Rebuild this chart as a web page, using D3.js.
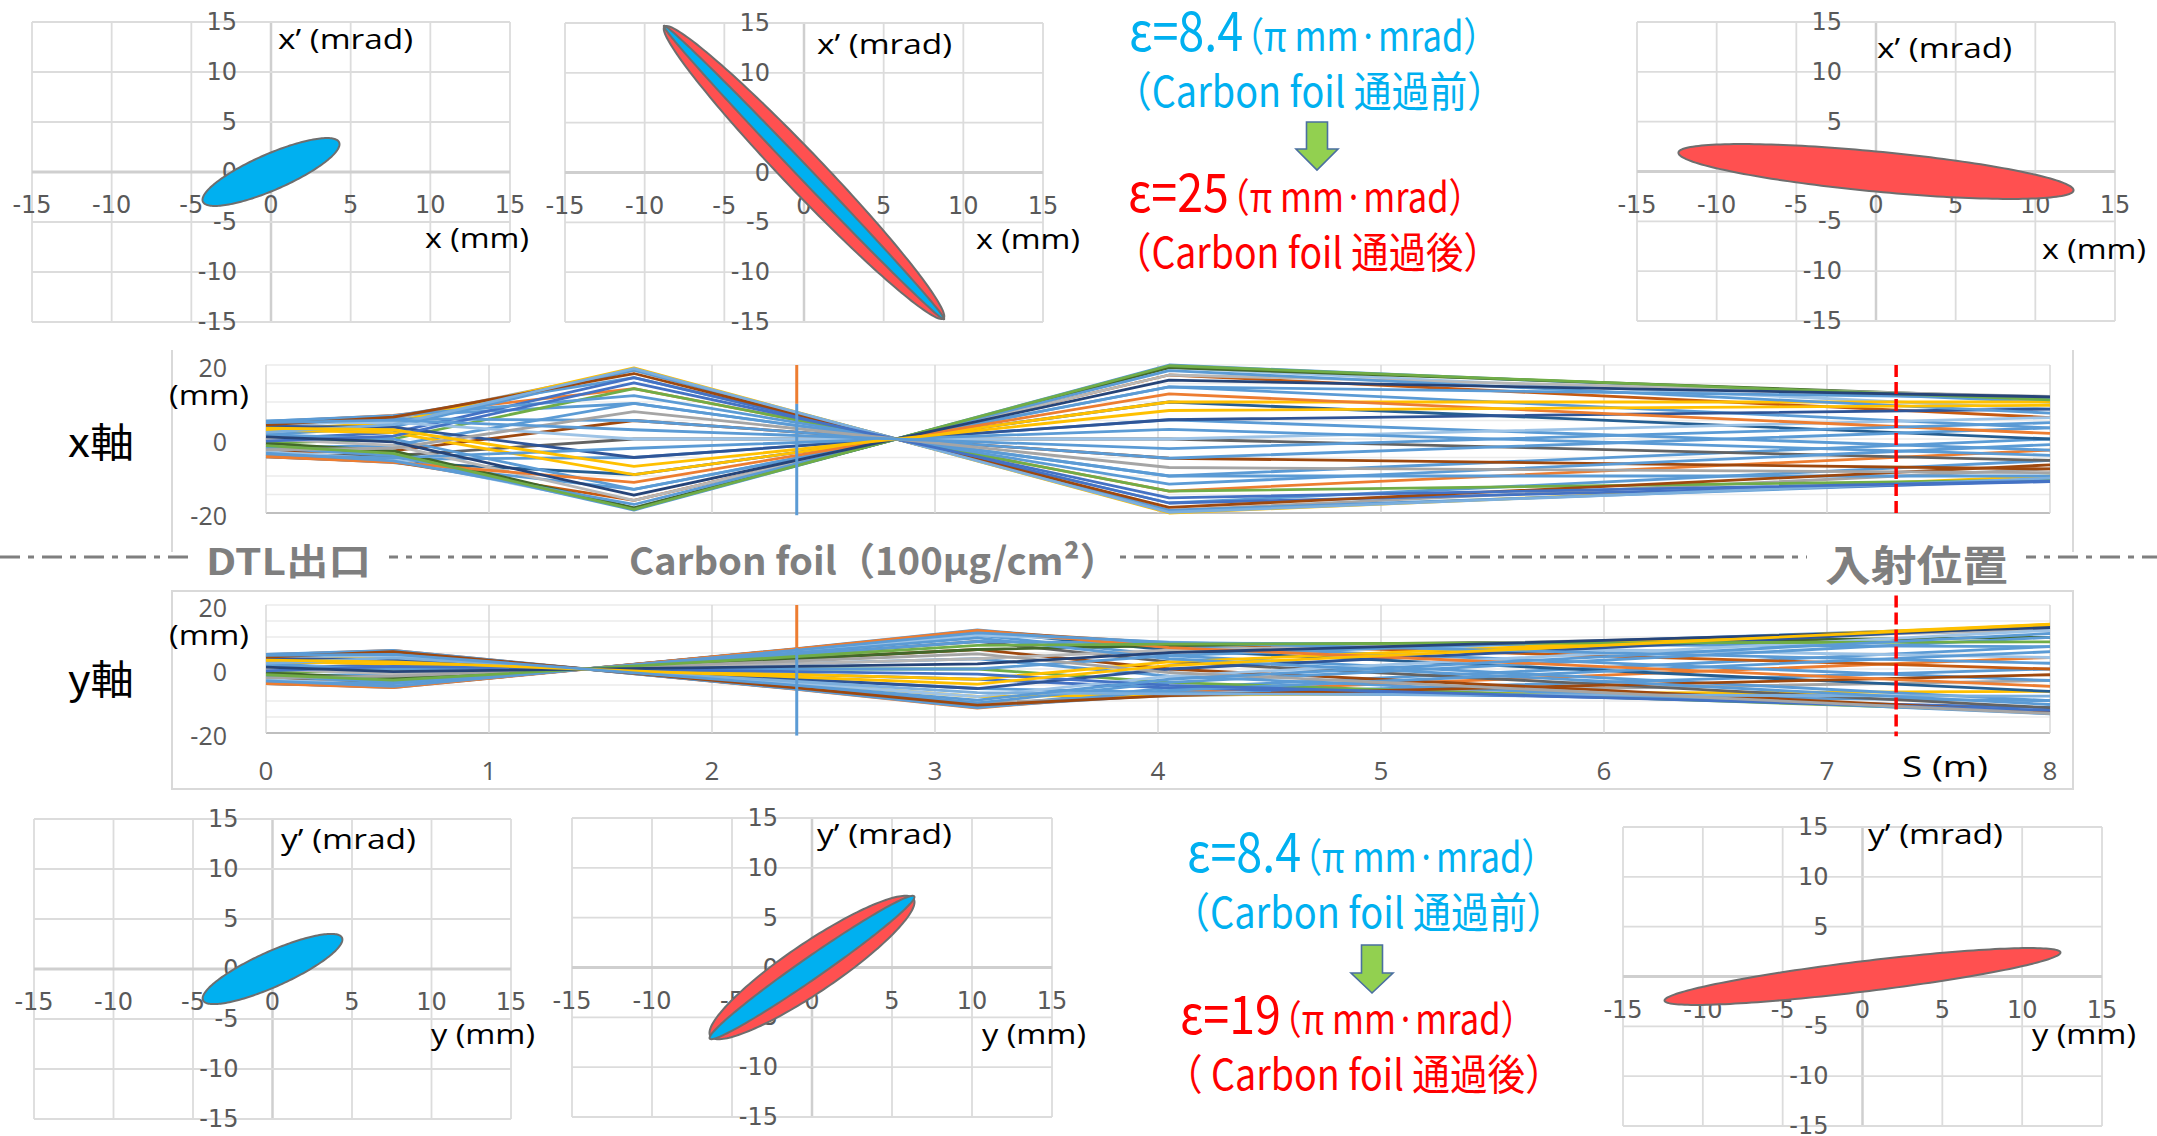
<!DOCTYPE html>
<html>
<head>
<meta charset="utf-8">
<script src="https://cdnjs.cloudflare.com/ajax/libs/d3/7.8.5/d3.min.js"></script>
<style>
  body { margin: 0; background: #fff; }
  svg { display: block; }
</style>
</head>
<body>
<script>
// ---------------- data ----------------
var phaseTicks = [-15, -10, -5, 0, 5, 10, 15];
var sTicks = [0, 1, 2, 3, 4, 5, 6, 7, 8];
var mmLabels = [-20, 0, 20];
var mmGrid = [-20, -15, -10, -5, 0, 5, 10, 15, 20];

// horizontal trajectories, value at each node (mm)
var xNodes = [0, 0.57, 1.65, 4.05, 8.0];
var xRays = [
  [4.8, 6.2, 9.6, -10.0, 0.0],
  [4.6, 6.4, 13.6, -14.1, -3.0],
  [4.2, 6.2, 16.6, -17.3, -5.8],
  [3.4, 5.5, 18.6, -19.3, -8.1],
  [2.4, 4.5, 19.2, -20.0, -10.0],
  [1.2, 3.2, 18.6, -19.3, -11.1],
  [0.0, 1.7, 16.6, -17.3, -11.5],
  [-1.2, 0.0, 13.6, -14.1, -11.1],
  [-2.4, -1.7, 9.6, -10.0, -10.0],
  [-3.4, -3.2, 5.0, -5.2, -8.1],
  [-4.2, -4.5, 0.0, 0.0, -5.8],
  [-4.6, -5.5, -5.0, 5.2, -3.0],
  [-4.8, -6.2, -9.6, 10.0, 0.0],
  [-4.6, -6.4, -13.6, 14.1, 3.0],
  [-4.2, -6.2, -16.6, 17.3, 5.8],
  [-3.4, -5.5, -18.6, 19.3, 8.1],
  [-2.4, -4.5, -19.2, 20.0, 10.0],
  [-1.2, -3.2, -18.6, 19.3, 11.1],
  [0.0, -1.7, -16.6, 17.3, 11.5],
  [1.2, 0.0, -13.6, 14.1, 11.1],
  [2.4, 1.7, -9.6, 10.0, 10.0],
  [3.4, 3.2, -5.0, 5.2, 8.1],
  [4.2, 4.5, 0.0, 0.0, 5.8],
  [4.6, 5.5, 5.0, -5.2, 3.0],
  [4.8, 6.3, 11.7, -12.2, -1.5],
  [3.8, 5.9, 17.7, -18.5, -7.0],
  [1.8, 3.9, 19.0, -19.8, -10.6],
  [-0.6, 0.8, 15.2, -15.9, -11.4],
  [-2.9, -2.5, 7.4, -7.7, -9.1],
  [-4.4, -5.1, -2.5, 2.6, -4.4],
  [-4.8, -6.3, -11.7, 12.2, 1.5],
  [-3.8, -5.9, -17.7, 18.5, 7.0],
  [-1.8, -3.9, -19.0, 19.8, 10.6],
  [0.6, -0.8, -15.2, 15.9, 11.4],
  [2.9, 2.5, -7.4, 7.7, 9.1],
  [4.4, 5.1, 2.5, -2.6, 4.4]
];

// vertical trajectories (mm)
var yNodes = [0, 0.57, 2.38, 3.19, 4.05, 8.0];
var yRays = [
  [4.6, 5.6, -6.2, -11.8, -5.9, 7.0],
  [4.4, 5.8, -6.4, -12.2, -7.3, 3.6],
  [4.0, 5.6, -6.2, -11.8, -8.1, 0.0],
  [3.3, 5.0, -5.5, -10.6, -8.4, -3.6],
  [2.3, 4.1, -4.5, -8.6, -8.1, -7.0],
  [1.2, 2.9, -3.2, -6.1, -7.3, -9.9],
  [0.0, 1.5, -1.7, -3.2, -5.9, -12.1],
  [-1.2, 0.0, 0.0, 0.0, -4.2, -13.5],
  [-2.3, -1.5, 1.7, 3.2, -2.2, -14.0],
  [-3.3, -2.9, 3.2, 6.1, 0.0, -13.5],
  [-4.0, -4.1, 4.5, 8.6, 2.2, -12.1],
  [-4.4, -5.0, 5.5, 10.6, 4.2, -9.9],
  [-4.6, -5.6, 6.2, 11.8, 5.9, -7.0],
  [-4.4, -5.8, 6.4, 12.2, 7.3, -3.6],
  [-4.0, -5.6, 6.2, 11.8, 8.1, 0.0],
  [-3.3, -5.0, 5.5, 10.6, 8.4, 3.6],
  [-2.3, -4.1, 4.5, 8.6, 8.1, 7.0],
  [-1.2, -2.9, 3.2, 6.1, 7.3, 9.9],
  [0.0, -1.5, 1.7, 3.2, 5.9, 12.1],
  [1.2, 0.0, 0.0, 0.0, 4.2, 13.5],
  [2.3, 1.5, -1.7, -3.2, 2.2, 14.0],
  [3.3, 2.9, -3.2, -6.1, 0.0, 13.5],
  [4.0, 4.1, -4.5, -8.6, -2.2, 12.1],
  [4.4, 5.0, -5.5, -10.6, -4.2, 9.9],
  [4.6, 5.8, -6.3, -12.1, -6.7, 5.4],
  [3.7, 5.4, -5.9, -11.3, -8.3, -1.8],
  [1.8, 3.5, -3.9, -7.4, -7.8, -8.5],
  [-0.6, 0.8, -0.8, -1.6, -5.1, -12.9],
  [-2.8, -2.2, 2.5, 4.7, -1.1, -13.9],
  [-4.3, -4.6, 5.1, 9.7, 3.2, -11.1],
  [-4.6, -5.8, 6.3, 12.1, 6.7, -5.4],
  [-3.7, -5.4, 5.9, 11.3, 8.3, 1.8],
  [-1.8, -3.5, 3.9, 7.4, 7.8, 8.5],
  [0.6, -0.8, 0.8, 1.6, 5.1, 12.9],
  [2.8, 2.2, -2.5, -4.7, 1.1, 13.9],
  [4.3, 4.6, -5.1, -9.7, -3.2, 11.1]
];

// carbon foil and injection point (m), and the mm range each marker covers
var foilS = 2.38;
var injS = 7.31;
var foilOrangeX = [20, 9.5], foilBlueX = [9.5, -20.6];
var foilOrangeY = [20, 6.6], foilBlueY = [6.6, -20.8];
var injRangeX = [20, -20.8], injRangeY = [23, -21];

// phase space ellipses (Twiss): panel, emittance, alpha, beta
var ellPanel = [0, 1, 1, 2, 3, 4, 4, 5];
var ellEps   = [8.4, 25, 8.4, 25, 8.4, 19, 8.4, 19];
var ellAlpha = [-1.42, 5.08, 15.4, 0.93, -1.54, -2.21, -5.39, -1.57];
var ellBeta  = [2.20, 3.10, 9.22, 6.15, 2.30, 2.16, 4.88, 8.09];
var ellAfter = [false, true, false, true, false, true, false, true];

// ---------------- layout ----------------
var W = 2157, H = 1136;
var palette = ["#5B9BD5", "#ED7D31", "#5B9BD5", "#A5A5A5", "#FFC000", "#5B9BD5",
               "#4472C4", "#70AD47", "#5B9BD5", "#9E480E", "#636363", "#5B9BD5",
               "#255E91", "#5B9BD5", "#C55A11", "#9DC3E6", "#5B9BD5", "#43682B",
               "#B7B7B7", "#5B9BD5", "#FFC000", "#2F5597", "#9DC3E6", "#5B9BD5",
               "#5B9BD5", "#9E480E", "#7CAFDD", "#4472C4", "#A5A5A5", "#5B9BD5",
               "#ED7D31", "#5B9BD5", "#70AD47", "#264478", "#FFC000", "#5B9BD5"];

var panels = [
  {x0: 32,   x1: 510,  y0: 22,  y1: 322, v: "x’ (mrad)", h: "x (mm)", vp: [278, 38],  hp: [425, 237]},
  {x0: 565,  x1: 1043, y0: 23,  y1: 322, v: "x’ (mrad)", h: "x (mm)", vp: [817, 43],  hp: [976, 238]},
  {x0: 1637, x1: 2115, y0: 22,  y1: 321, v: "x’ (mrad)", h: "x (mm)", vp: [1877, 47], hp: [2042, 248]},
  {x0: 34,   x1: 511,  y0: 819, y1: 1119, v: "y’ (mrad)", h: "y (mm)", vp: [281, 838], hp: [431, 1033]},
  {x0: 572,  x1: 1052, y0: 818, y1: 1117, v: "y’ (mrad)", h: "y (mm)", vp: [817, 833], hp: [982, 1033]},
  {x0: 1623, x1: 2102, y0: 827, y1: 1126, v: "y’ (mrad)", h: "y (mm)", vp: [1868, 833], hp: [2032, 1033]}
];

var svg = d3.select("body").append("svg")
    .attr("width", W)
    .attr("height", H);

svg.append("rect").attr("width", W).attr("height", H).attr("fill", "#fff");

function txt(g, x, y, s, o) {
    var t = g.append("text")
        .attr("x", x)
        .attr("y", y)
        .attr("font-family", o.font || "Open Sans")
        .attr("font-size", o.size)
        .attr("fill", o.fill || "#000")
        .text(s);
    if (o.anchor) t.attr("text-anchor", o.anchor);
    if (o.base) t.attr("dominant-baseline", o.base);
    if (o.weight) t.attr("font-weight", o.weight);
    if (o.len) t.attr("textLength", o.len).attr("lengthAdjust", "spacingAndGlyphs");
    return t;
}

// ---------------- phase space panels ----------------
panels.forEach(function(p, pi) {
    var g = svg.append("g");
    var px = d3.scaleLinear().domain([-15, 15]).range([p.x0, p.x1]);
    var py = d3.scaleLinear().domain([-15, 15]).range([p.y1, p.y0]);

    g.selectAll(".vg").data(phaseTicks).enter().append("line")
        .attr("x1", function(d) { return px(d); })
        .attr("x2", function(d) { return px(d); })
        .attr("y1", p.y0).attr("y2", p.y1)
        .attr("stroke", function(d) { return d === 0 ? "#cfcfcf" : "#dcdcdc"; })
        .attr("stroke-width", function(d) { return d === 0 ? 2.5 : 1.8; });

    g.selectAll(".hg").data(phaseTicks).enter().append("line")
        .attr("y1", function(d) { return py(d); })
        .attr("y2", function(d) { return py(d); })
        .attr("x1", p.x0).attr("x2", p.x1)
        .attr("stroke", function(d) { return d === 0 ? "#cfcfcf" : "#dcdcdc"; })
        .attr("stroke-width", function(d) { return d === 0 ? 3 : 1.8; });

    // tick labels
    phaseTicks.forEach(function(d) {
        txt(g, px(d), py(0) + 33, d, {size: 24, font: "DejaVu Sans", fill: "#595959", anchor: "middle", base: "central"});
        txt(g, px(0) - 34, py(d), d, {size: 24, font: "DejaVu Sans", fill: "#595959", anchor: "end", base: "central"});
    });

    txt(g, p.vp[0], p.vp[1], p.v, {size: 28, base: "central", len: 135});
    txt(g, p.hp[0], p.hp[1], p.h, {size: 28, base: "central", len: 104});

    // ellipses of this panel
    var steps = d3.range(0, 2 * Math.PI, Math.PI / 90);
    var line = d3.line().curve(d3.curveLinearClosed);
    ellPanel.forEach(function(k, i) {
        if (k !== pi) return;
        var e = ellEps[i], a = ellAlpha[i], b = ellBeta[i];
        var pts = steps.map(function(t) {
            var u = Math.sqrt(e * b) * Math.cos(t);
            var up = -Math.sqrt(e / b) * (a * Math.cos(t) + Math.sin(t));
            return [px(u), py(up)];
        });
        g.append("path")
            .attr("d", line(pts))
            .attr("fill", ellAfter[i] ? "#FF5050" : "#00B0F0")
            .attr("stroke", "#6e6e6e")
            .attr("stroke-width", 2);
    });
});

// ---------------- trajectory plots ----------------
var sx = d3.scaleLinear().domain([0, 8]).range([266, 2050]);
var syX = d3.scaleLinear().domain([-20, 20]).range([513, 365]);
var syY = d3.scaleLinear().domain([-20, 20]).range([733, 605]);

// chart frames (the upper one shows only its sides)
svg.append("path")
    .attr("d", "M172,552V350M2073,350V552")
    .attr("fill", "none").attr("stroke", "#d9d9d9").attr("stroke-width", 2);
svg.append("rect")
    .attr("x", 172).attr("y", 591).attr("width", 1901).attr("height", 198)
    .attr("fill", "none").attr("stroke", "#d9d9d9").attr("stroke-width", 2);

function trajPlot(sy, nodes, rays, orange, blue, inj, name, nameY) {
    var g = svg.append("g");

    g.selectAll(".hg").data(mmGrid).enter().append("line")
        .attr("x1", sx(0)).attr("x2", sx(8))
        .attr("y1", function(d) { return sy(d); })
        .attr("y2", function(d) { return sy(d); })
        .attr("stroke", function(d) { return d === -20 ? "#bfbfbf" : "#ebebeb"; })
        .attr("stroke-width", function(d) { return d === -20 ? 2 : 1.5; });

    g.selectAll(".vg").data(sTicks).enter().append("line")
        .attr("x1", function(d) { return sx(d); })
        .attr("x2", function(d) { return sx(d); })
        .attr("y1", sy(20)).attr("y2", sy(-20))
        .attr("stroke", "#d9d9d9").attr("stroke-width", 1.5);

    var line = d3.line()
        .x(function(d, i) { return sx(nodes[i]); })
        .y(function(d) { return sy(d); });

    g.selectAll(".ray").data(rays).enter().append("path")
        .attr("d", line)
        .attr("fill", "none")
        .attr("stroke", function(d, i) { return palette[i % palette.length]; })
        .attr("stroke-width", 2.8)
        .attr("stroke-linejoin", "round");

    g.append("line")
        .attr("x1", sx(foilS)).attr("x2", sx(foilS))
        .attr("y1", sy(orange[0])).attr("y2", sy(orange[1]))
        .attr("stroke", "#ED7D31").attr("stroke-width", 3);
    g.append("line")
        .attr("x1", sx(foilS)).attr("x2", sx(foilS))
        .attr("y1", sy(blue[0])).attr("y2", sy(blue[1]))
        .attr("stroke", "#5B9BD5").attr("stroke-width", 3);

    g.append("line")
        .attr("x1", sx(injS)).attr("x2", sx(injS))
        .attr("y1", sy(inj[0])).attr("y2", sy(inj[1]))
        .attr("stroke", "#FF0000").attr("stroke-width", 3.5)
        .attr("stroke-dasharray", "12 5");

    mmLabels.forEach(function(d) {
        txt(g, 227, sy(d) + 2, d, {size: 25, fill: "#595959", anchor: "end", base: "central"});
    });
    txt(g, 209, sy(20) + 29, "(mm)", {size: 28, anchor: "middle", base: "central", len: 80});
    txt(g, 101, nameY, name, {size: 40, font: "Noto Sans CJK JP", anchor: "middle", base: "central", len: 66});
}

trajPlot(syX, xNodes, xRays, foilOrangeX, foilBlueX, injRangeX, "x軸", 440);
trajPlot(syY, yNodes, yRays, foilOrangeY, foilBlueY, injRangeY, "y軸", 677);

// s axis labels
sTicks.forEach(function(d) {
    txt(svg, sx(d), 770, d, {size: 26, fill: "#595959", anchor: "middle", base: "central"});
});
txt(svg, 1945, 765, "S (m)", {size: 30, anchor: "middle", base: "central", len: 86});

// ---------------- dash-dot separator ----------------
svg.append("line")
    .attr("x1", 0).attr("x2", W).attr("y1", 557).attr("y2", 557)
    .attr("stroke", "#7f7f7f").attr("stroke-width", 3)
    .attr("stroke-dasharray", "20 8 6 8");

var marks = [
    {t: "DTL出口", x0: 206, x1: 371, size: 36, y: 559},
    {t: "Carbon foil（100μg/cm²）", x0: 629, x1: 1118, size: 38, y: 558},
    {t: "入射位置", x0: 1825, x1: 2008, size: 42, y: 562}
];
marks.forEach(function(m) {
    svg.append("rect")
        .attr("x", m.x0 - 18).attr("y", 532)
        .attr("width", Math.min(m.x1, m.x0 + 467) - m.x0 + 36).attr("height", 52)
        .attr("fill", "#fff");
    txt(svg, m.x0, m.y, m.t, {size: m.size, font: "Noto Sans CJK JP", weight: "bold",
        fill: "#7f7f7f", base: "central", len: m.x1 - m.x0});
});

// ---------------- emittance notes ----------------
var blue = "#00B0F0", red = "#FF0000";
var cjk = "Noto Sans CJK JP";

// one text per line, stretched so its ink runs from x0 to x1
// (full-width brackets carry blank space, padL / padR and dx make up for it)
function fitLine(x0, x1, y, parts, color, padL, padR) {
    var t = svg.append("text")
        .attr("x", 0).attr("y", 0)
        .attr("font-family", cjk)
        .attr("fill", color);
    parts.forEach(function(p) {
        var ts = t.append("tspan").attr("font-size", p[1]).text(p[0]);
        if (p[2]) ts.attr("dx", p[2]);
    });
    var w = t.node().getComputedTextLength();
    var k = (x1 - x0 + padL + padR) / w;
    t.attr("transform", "translate(" + (x0 - padL) + "," + y + ") scale(" + k + ",1)");
}

function note(x, y, big, end1, line2, x2, end2, color) {
    fitLine(x, end1, y, [[big, 54], ["（π mm·mrad）", 40, -16]], color, 0, 17);
    fitLine(x2, end2, y + 56, [[line2, 42]], color, 18, 18);
}

function arrow(cx, top, headTop, tip) {
    var p = [[cx - 10.5, top], [cx + 10.5, top], [cx + 10.5, headTop], [cx + 21, headTop],
             [cx, tip], [cx - 21, headTop], [cx - 10.5, headTop]];
    svg.append("path")
        .attr("d", d3.line().curve(d3.curveLinearClosed)(p))
        .attr("fill", "#92D050")
        .attr("stroke", "#4A6FA0")
        .attr("stroke-width", 1.6);
}

note(1129, 51, "ε=8.4", 1495, "（Carbon foil 通過前）", 1132, 1487, blue);
arrow(1317, 122, 149, 170);
note(1128, 212, "ε=25", 1480, "（Carbon foil 通過後）", 1132, 1483, red);

note(1187, 872, "ε=8.4", 1553, "（Carbon foil 通過前）", 1190, 1547, blue);
arrow(1372, 945, 973, 993);
note(1180, 1034, "ε=19", 1532, "（ Carbon foil 通過後）", 1183, 1545, red);
</script>
</body>
</html>
